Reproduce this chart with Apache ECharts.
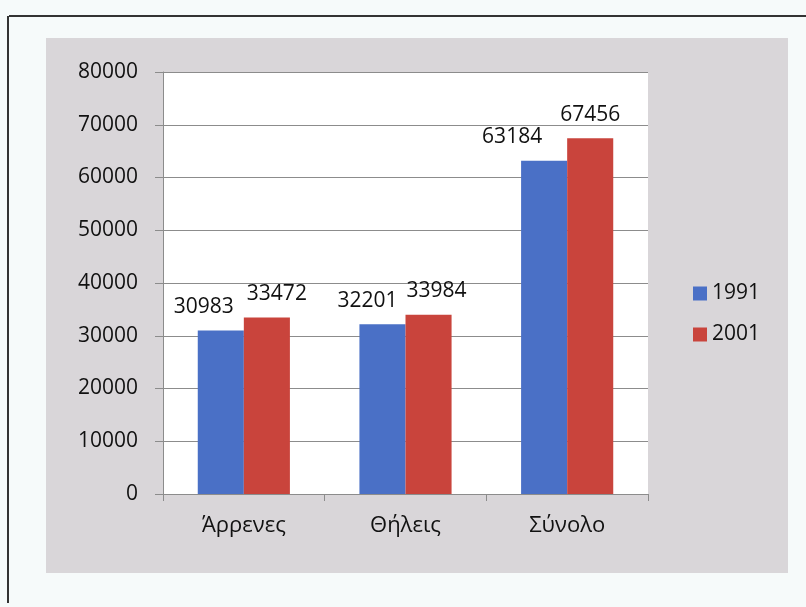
<!DOCTYPE html>
<html><head><meta charset="utf-8">
<script src="https://cdn.jsdelivr.net/npm/echarts@6/dist/echarts.min.js"></script>
<style>html,body{margin:0;padding:0;background:#f6fafa}#c{width:806px;height:607px}</style>
</head><body><div id="c"></div>
<script>
const categories = ['Άρρενες', 'Θήλεις', 'Σύνολο'];
const seriesNames = ['1991', '2001'];
const values1991 = [30983, 32201, 63184];
const values2001 = [33472, 33984, 67456];
const yTicks = [0, 10000, 20000, 30000, 40000, 50000, 60000, 70000, 80000];

const FONT = 'Open Sans';
const TEXT = '#111111';
const chart = echarts.init(document.getElementById('c'), null, {renderer: 'canvas'});
const labelOffsets1991 = [[-17, 0], [-15, 0], [-32, 0]];
const labelOffsets2001 = [[10, 0], [8, 0], [0, 0]];
function items(vals, offs) {
  return vals.map((v, i) => ({value: v, label: {offset: offs[i]}}));
}
const labelStyle = {show: true, position: 'top', distance: 13, color: TEXT, fontSize: 21, fontFamily: FONT};
chart.setOption({
  backgroundColor: '#f6fafa',
  animation: false,
  graphic: [
    {type: 'rect', z: -100, shape: {x: 46, y: 38, width: 742, height: 535}, style: {fill: '#d9d6d9'}},
    {type: 'line', z: 100, shape: {x1: 9, y1: 16, x2: 806, y2: 16}, style: {stroke: '#333', lineWidth: 2}},
    {type: 'line', z: 100, shape: {x1: 8, y1: 16, x2: 8, y2: 603}, style: {stroke: '#333', lineWidth: 2}}
  ],
  grid: {left: 163, right: 158, top: 72, bottom: 113, show: true, backgroundColor: '#ffffff', borderWidth: 0},
  legend: {
    orient: 'vertical', left: 688, top: 278, itemWidth: 14, itemHeight: 14, itemGap: 20,
    icon: 'rect', textStyle: {fontSize: 21, fontFamily: FONT, color: TEXT},
    data: seriesNames
  },
  xAxis: {
    type: 'category', data: categories,
    axisLine: {lineStyle: {color: '#8c8c8c'}},
    axisTick: {show: true, length: 7, lineStyle: {color: '#8c8c8c'}},
    axisLabel: {fontSize: 22, fontFamily: FONT, color: TEXT, margin: 21}
  },
  yAxis: {
    type: 'value', min: yTicks[0], max: yTicks[yTicks.length - 1], interval: yTicks[1] - yTicks[0],
    axisLine: {show: true, lineStyle: {color: '#8c8c8c'}},
    axisTick: {show: true, length: 8, lineStyle: {color: '#8c8c8c'}},
    splitLine: {lineStyle: {color: '#8c8c8c', width: 1}},
    axisLabel: {fontSize: 21, fontFamily: FONT, color: TEXT, margin: 25, formatter: v => String(v)}
  },
  series: [
    {name: seriesNames[0], type: 'bar', data: items(values1991, labelOffsets1991), barGap: '0%', barCategoryGap: '43%',
     itemStyle: {color: '#4a70c6'}, label: labelStyle},
    {name: seriesNames[1], type: 'bar', data: items(values2001, labelOffsets2001),
     itemStyle: {color: '#c9443c'}, label: labelStyle}
  ]
});
</script></body></html>
